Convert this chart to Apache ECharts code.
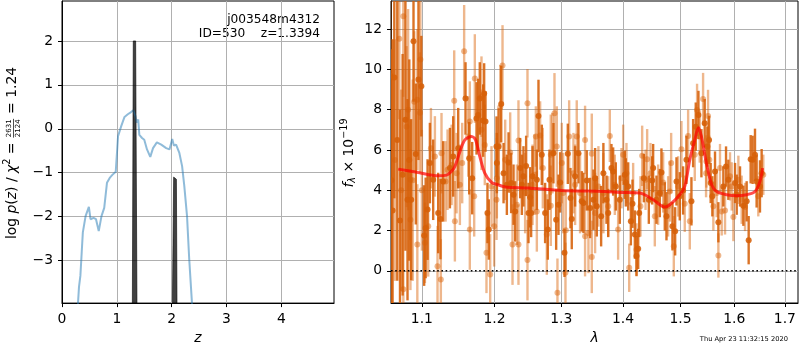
<!DOCTYPE html>
<html>
<head>
<meta charset="utf-8">
<script src="https://cdn.jsdelivr.net/npm/echarts@6/dist/echarts.min.js"></script>
<style>
html, body { margin: 0; padding: 0; background: #fff; }
#canvas { width: 800px; height: 350px; }
</style>
</head>
<body>
<div id="canvas"></div>
<script>
// ---- left panel: log p(z)
var pz_z = [0.28, 0.292, 0.31, 0.335, 0.36, 0.38, 0.43, 0.49, 0.52, 0.575, 0.62, 0.67, 0.72, 0.77, 0.80, 0.82, 0.87, 0.918, 0.95, 0.98,
    1.022, 1.08, 1.14, 1.20, 1.26, 1.30, 1.34, 1.36, 1.39, 1.41, 1.46, 1.50, 1.55, 1.61, 1.66, 1.73, 1.81, 1.90, 1.96, 2.01,
    2.04, 2.08, 2.14, 2.19, 2.23, 2.28, 2.32, 2.37, 2.40];
var pz_logp = [-4.6, -3.97, -3.6, -3.35, -2.8, -2.36, -1.99, -1.78, -2.06, -2.03, -2.06, -2.33, -1.99, -1.80, -1.84, -1.23, -1.12, -1.05, -1.08, -0.98,
    -0.17, 0.06, 0.27, 0.33, 0.38, 0.42, 0.29, 0.14, 0.21, -0.14, -0.21, -0.25, -0.47, -0.64, -0.44, -0.31, -0.36, -0.44, -0.47, -0.23,
    -0.38, -0.36, -0.55, -0.85, -1.30, -1.99, -2.97, -3.97, -4.6];
var spike_z = [1.283, 1.300, 1.318, 1.343, 1.367, 2.013, 2.036, 2.060, 2.086, 2.097];
var spike_logp = [-4.0, 2.0, 2.03, 2.0, -4.0, -4.0, -1.10, -1.12, -1.15, -4.0];
var z_ticks = [0, 1, 2, 3, 4];
var logp_ticks = [-3, -2, -1, 0, 1, 2];

// ---- right panel: spectrum
var dark_lam = [1.0620, 1.0680, 1.0715, 1.0785, 1.0835, 1.0920, 1.0955,
    1.0590, 1.0605, 1.0642, 1.0749, 1.0812, 1.0860, 1.0890, 1.0993, 1.1030, 1.1050, 1.1075, 1.1106, 1.1150, 1.1217, 1.1248, 1.1285,
    1.1376, 1.1421, 1.1490, 1.1591, 1.1642, 1.1684, 1.1745, 1.1768, 1.1791, 1.1839, 1.1853, 1.1872, 1.1900, 1.1919, 1.2030,
    1.2035, 1.2059, 1.2098, 1.2132, 1.2180, 1.2205, 1.2243, 1.2278, 1.2302, 1.2376, 1.2401, 1.2425, 1.2465, 1.2500, 1.2525, 1.2540,
    1.2561, 1.2626, 1.2651, 1.2701, 1.2752, 1.2793, 1.2819, 1.2880, 1.2922, 1.2958, 1.2984, 1.3052, 1.3104, 1.3146, 1.3166, 1.3219,
    1.3272, 1.3325, 1.3352, 1.3405, 1.3459, 1.3513, 1.3540, 1.3567, 1.3638, 1.3675,
    1.3726, 1.3754, 1.3808, 1.3836, 1.3880, 1.3947, 1.4031, 1.4048, 1.4088, 1.4133, 1.4161, 1.4201, 1.4229, 1.4258, 1.4275, 1.4355,
    1.4441, 1.4499, 1.4516, 1.4574, 1.4632, 1.4661, 1.4720, 1.4750, 1.4856, 1.4904, 1.4928, 1.4987, 1.5047, 1.5107, 1.5198, 1.5229,
    1.5277, 1.5326, 1.5381, 1.5442, 1.5491, 1.5523,
    1.5553, 1.5584, 1.5634, 1.5697, 1.5791, 1.5842, 1.5886, 1.6014, 1.6046, 1.6110, 1.6175, 1.6239, 1.6278, 1.6317, 1.6356, 1.6402,
    1.6434, 1.6500, 1.6533];
var dark_flux = [3.0, 6.5, 2.5, 7.5, 5.5, 5.8, 9.5,
    9.7, 4.5, 9.6, 4.77, 3.53, 3.53, 11.4, 9.17, 1.75, 2.13, 3.04, 5.35, 4.52, 2.87, 2.57, 4.44,
    5.1, 5.68, 6.09, 8.56, 5.59, 4.6, 7.57, 7.74, 8.56, 7.46, 8.81, 7.41, 2.87, 2.05, 6.17,
    5.35, 6.17, 8.28, 4.85, 4.27, 5.38, 4.36, 3.78, 2.95, 5.1, 4.27, 4.69, 5.21, 2.87, 3.65, 2.87,
    4.69, 4.52, 7.69, 5.76, 2.87, 2.05, 4.52, 5.84, 2.54, 3.28, 4.39, 0.89, 5.81, 3.61, 2.57, 4.69,
    5.84, 3.45, 3.37, 4.49, 3.12, 3.53, 4.6, 3.2, 2.71, 4.85,
    3.53, 2.87, 5.1, 4.93, 4.19, 3.53, 4.77, 4.39, 4.19, 2.46, 3.33, 1.8, 0.73, 1.09, 2.87, 4.6,
    3.53, 4.49, 5.1, 3.53, 3.86, 4.88, 3.2, 2.71, 2.21, 1.96, 4.44, 3.7, 3.99, 5.51, 3.45, 6.34,
    7.16, 7.74, 5.84, 7.33, 6.17, 6.5,
    4.36, 3.7, 4.93, 2.41, 4.19, 5.18, 4.52, 4.36, 3.78, 4.19, 3.23, 3.45, 1.52, 5.54, 5.51, 5.76,
    4.44, 4.19, 4.85];
var dark_err = [8.5, 7, 5.5, 6.5, 5, 3.5, 4,
    7, 6.5, 6, 6, 5, 4, 3, 2.5, 2.5, 2.5, 2.5, 2, 2, 2, 2, 2,
    2, 2, 2, 1.8, 1.8, 1.8, 1.8, 1.8, 1.8, 1.8, 1.5, 1.5, 1.5, 1.5, 1.5,
    1.5, 1.9, 1.9, 1.5, 1.5, 1.5, 1.5, 1.5, 1.5, 1.5, 1.5, 1.5, 1.5, 1.5, 1.5, 1.2,
    1.5, 1.5, 1.8, 1.5, 1.5, 1.5, 1.5, 1.5, 1.5, 1.5, 1.5, 1.2, 1.5, 1.5, 1.5, 1.5,
    1.5, 1.5, 1.5, 1.5, 1.5, 1.5, 1.5, 1.5, 1.5, 1.5,
    1.2, 1.2, 1.2, 1.2, 1.2, 1.2, 1.2, 1.2, 1.2, 1.2, 1.2, 1.2, 1.0, 1.0, 1.2, 1.2,
    1.2, 1.2, 1.2, 1.2, 1.2, 1.2, 1.2, 1.2, 1.2, 1.2, 1.2, 1.2, 1.2, 1.2, 1.2, 1.2,
    1.2, 1.2, 1.2, 1.2, 1.0, 1.2,
    1.0, 1.0, 1.0, 1.0, 1.0, 1.0, 1.0, 1.0, 1.0, 1.0, 1.0, 1.0, 1.2, 1.2, 1.2, 1.3,
    1.3, 1.3, 1.2];

var light_lam = [1.0650, 1.0730, 1.0820, 1.0880, 1.1000,
    1.0706, 1.0758, 1.0758, 1.0800, 1.0850, 1.0850, 1.0900, 1.0940, 1.0980, 1.0975, 1.0940, 1.1040, 1.1084, 1.1120, 1.1173,
    1.1208, 1.1253, 1.1262, 1.1317, 1.1344, 1.1399, 1.1435, 1.1444, 1.1467, 1.1513, 1.1545, 1.1572, 1.1628, 1.1651, 1.1651, 1.1712,
    1.1721, 1.1815, 1.1815, 1.1862, 1.1886, 1.1939, 1.1958, 1.1996, 1.2030,
    1.2035, 1.2084, 1.2117, 1.2156, 1.2229, 1.2263, 1.2327, 1.2351, 1.2351, 1.2450, 1.2485, 1.2485, 1.2561, 1.2591, 1.2611, 1.2626,
    1.2676, 1.2717, 1.2778, 1.2839, 1.2839, 1.2865, 1.2896, 1.2932, 1.2942, 1.3010, 1.3031, 1.3067, 1.3072, 1.3125, 1.3193, 1.3219,
    1.3245, 1.3298, 1.3378, 1.3378, 1.3432, 1.3486, 1.3486, 1.3540, 1.3594, 1.3675,
    1.3754, 1.3781, 1.3864, 1.3919, 1.3975, 1.4003, 1.4059, 1.4105, 1.4172, 1.4229, 1.4297, 1.4326, 1.4384, 1.4412, 1.4470, 1.4545,
    1.4603, 1.4691, 1.4779, 1.4809, 1.4833, 1.4880, 1.4957, 1.5017, 1.5077, 1.5138, 1.5168, 1.5259, 1.5301, 1.5350, 1.5412, 1.5473,
    1.5504,
    1.5467, 1.5528, 1.5603, 1.5665, 1.5697, 1.5728, 1.5760, 1.5823, 1.5918, 1.5950, 1.5982, 1.6078, 1.6142, 1.6207, 1.6467, 1.6566];
var light_flux = [5.5, 4.0, 8.0, 4.5, 4.0,
    11.53, 12.64, -0.92, 7.16, 4.52, 2.54, 8.4, 8.5, 10.5, 7.85, 1.3, 1.39, 2.21, 6.09, 5.68,
    0.23, -0.43, 5.84, 4.44, 5.02, 5.26, 8.45, 2.46, 4.85, 4.27, 5.35, 10.9, 6.67, 7.41, 2.05, 3.7,
    9.55, 8.65, 7.0, 6.25, 0.89, -0.18, 4.19, 2.21, 3.53,
    4.6, 8.12, 10.2, 5.51, 5.87, 1.3, 3.28, 1.3, 6.47, 3.86, 8.32, 0.53, 4.27, 4.77, 6.67, 2.95,
    6.72, 5.1, 1.8, 5.76, 3.23, 5.84, 7.82, 6.17, -1.09, 5.35, 3.86, -0.1, 2.01, 6.67, 4.85, 4.27,
    6.67, 3.86, 6.5, 1.72, 1.88, 5.81, 0.69, 2.87, 4.19, 3.86,
    3.2, 6.7, 4.27, 2.05, 4.6, 5.76, 4.85, 0.15, 3.86, 1.06, 3.2, 5.71, 4.52, 5.54, 4.85, 2.71,
    3.78, 4.39, 3.2, 3.94, 5.35, 1.22, 4.19, 6.04, 3.33, 6.7, 2.46, 5.76, 7.99, 6.67, 8.53, 5.43,
    7.69,
    4.85, 5.51, 3.2, 3.86, 0.76, 5.1, 2.95, 3.0, 4.69, 4.19, 2.67, 4.52, 3.53, 3.17, 3.7, 4.77];
var light_err = [6, 5, 5, 5, 3,
    4, 4, 3, 4, 3, 3.5, 3.5, 3.5, 3, 3, 3, 2, 2.5, 2, 2,
    2, 2, 2, 2, 2, 2, 2.5, 2, 2, 2, 2, 2.3, 2, 2, 2, 2,
    2.2, 2, 2, 2, 2, 2, 2, 2, 2,
    2, 2.1, 2, 2, 2, 2, 2, 2, 2, 2, 1.7, 2, 2, 2, 1.5, 2,
    1.7, 2, 2, 2, 2, 2, 2, 2, 1.7, 2, 2, 1.5, 2, 1.8, 2, 2,
    1.8, 2, 1.7, 2, 2, 2, 1.8, 2, 2, 2,
    1.5, 1.3, 1.5, 1.5, 1.5, 1.5, 1.5, 1.2, 1.5, 1.3, 1.5, 1.5, 1.5, 1.5, 1.5, 1.5,
    1.5, 1.5, 1.5, 1.5, 1.5, 1.5, 1.5, 1.4, 1.4, 1.3, 1.4, 1.3, 1.3, 1.3, 1.3, 1.3,
    1.3,
    1.2, 1.2, 1.2, 1.2, 1.1, 1.2, 1.2, 1.2, 1.2, 1.2, 1.2, 1.2, 1.2, 1.2, 1.0, 1.0];

var model_lam = [1.0692, 1.0952, 1.1217, 1.1330, 1.1400, 1.1444, 1.1513, 1.1582, 1.1675, 1.1731, 1.1791, 1.1862, 1.1958, 1.2054,
    1.2156, 1.2500, 1.3010, 1.3703, 1.3947, 1.4286, 1.4516, 1.4720, 1.4809, 1.4987, 1.5077, 1.5168, 1.5259, 1.5326, 1.5381,
    1.5473, 1.5572, 1.5665, 1.5854, 1.6046, 1.6239, 1.6402, 1.6500, 1.6552];
var model_flux = [5.05, 4.88, 4.72, 4.75, 4.95, 5.18, 5.92, 6.5, 6.67, 6.5, 5.68, 4.85, 4.39, 4.27,
    4.16, 4.11, 3.99, 3.94, 3.89, 3.86, 3.53, 3.17, 3.28, 3.78, 4.19, 5.51, 6.5, 7.1, 6.67,
    5.35, 4.27, 3.94, 3.78, 3.73, 3.78, 3.94, 4.44, 5.1];
var lam_ticks = [1.1, 1.2, 1.3, 1.4, 1.5, 1.6, 1.7];
var flux_ticks = [0, 2, 4, 6, 8, 10, 12];

var FONT = '"DejaVu Sans", sans-serif';
var FS = 13.9;

var errbar_series = function(lam, flux, err, color, z) {
    var data = [];
    for (var i in lam) data.push([Math.log10(lam[i]), flux[i], flux[i] - err[i], flux[i] + err[i]]);
    return {
        type: 'custom',
        xAxisIndex: 1, yAxisIndex: 1,
        clip: true,
        z: z,
        data: data,
        renderItem: function(params, api) {
            var p = api.coord([api.value(0), api.value(1)]);
            var lo = api.coord([api.value(0), api.value(2)]);
            var hi = api.coord([api.value(0), api.value(3)]);
            return {
                type: 'group',
                children: [
                    {type: 'line', shape: {x1: lo[0], y1: lo[1], x2: hi[0], y2: hi[1]},
                     style: {stroke: color, lineWidth: 2.4}},
                    {type: 'circle', shape: {cx: p[0], cy: p[1], r: 3},
                     style: {fill: color}}
                ]
            };
        }
    };
}

// measure text to lay out the math axis labels
var ctx = document.createElement('canvas').getContext('2d');
var text_width = function(s, font) {
    ctx.font = font;
    return ctx.measureText(s).width;
}
var math_label = function(parts, cx, cy) {
    var children = [];
    var x = 0;
    for (var i in parts) {
        var p = parts[i];
        var size = p.size || FS;
        var font = (p.italic ? 'italic ' : '') + size + 'px ' + FONT;
        if (p.frac) {
            var w = Math.max(text_width(p.frac[0], font), text_width(p.frac[1], font)) + 2;
            children.push({type: 'text', x: x + w / 2, y: -3, style: {text: p.frac[0], font: font, fill: '#000', textAlign: 'center', textVerticalAlign: 'middle'}});
            children.push({type: 'text', x: x + w / 2, y: 6, style: {text: p.frac[1], font: font, fill: '#000', textAlign: 'center', textVerticalAlign: 'middle'}});
            children.push({type: 'line', shape: {x1: x + 0.5, y1: 1.5, x2: x + w - 0.5, y2: 1.5}, style: {stroke: '#000', lineWidth: 0.7}});
            x += w;
        } else {
            children.push({type: 'text', x: x, y: p.dy || 0, style: {text: p.t, font: font, fill: '#000', textAlign: 'left', textVerticalAlign: 'middle'}});
            x += text_width(p.t, font);
        }
    }
    for (var j in children) {
        if (children[j].type == 'line') {
            children[j].shape.x1 -= x / 2;
            children[j].shape.x2 -= x / 2;
        } else {
            children[j].x -= x / 2;
        }
    }
    return {type: 'group', x: cx, y: cy, rotation: Math.PI / 2, children: children};
}

var axis_common = function(ticks, fmt) {
    return {
        axisLine: {show: true, onZero: false, lineStyle: {color: '#000', width: 1}},
        axisTick: {show: true, length: 4, customValues: ticks, lineStyle: {color: '#000', width: 1}},
        axisLabel: {customValues: ticks, color: '#000', fontSize: FS, fontFamily: FONT, margin: 9, formatter: fmt},
        splitLine: {show: true, lineStyle: {color: '#b0b0b0', width: 1}}
    };
}

var myChart = echarts.init(document.getElementById('canvas'));

var lam_min = Math.log10(1.06), lam_max = Math.log10(1.727);

var option = {
    animation: false,
    backgroundColor: '#fff',
    grid: [
        {left: 62, top: 1, width: 272, height: 303, show: true, borderColor: '#000', borderWidth: 1},
        {left: 391, top: 1, width: 407, height: 302, show: true, borderColor: '#000', borderWidth: 1}
    ],
    xAxis: [
        Object.assign({
            type: 'value', gridIndex: 0, min: 0, max: 4.96,
            name: 'z', nameLocation: 'middle', nameGap: 27,
            nameTextStyle: {fontStyle: 'italic', fontSize: FS, fontFamily: FONT, color: '#000'}
        }, axis_common(z_ticks, function(v) { return String(v); })),
        Object.assign({
            type: 'value', gridIndex: 1, min: lam_min, max: lam_max,
            name: 'λ', nameLocation: 'middle', nameGap: 27,
            nameTextStyle: {fontStyle: 'italic', fontSize: FS, fontFamily: FONT, color: '#000'}
        }, axis_common(lam_ticks.map(Math.log10), function(v) { return Math.pow(10, v).toFixed(1); }))
    ],
    yAxis: [
        Object.assign({type: 'value', gridIndex: 0, min: -3.97, max: 2.91},
            axis_common(logp_ticks, function(v) { return v < 0 ? '\u2212' + Math.abs(v) : String(v); })),
        Object.assign({type: 'value', gridIndex: 1, min: -1.6, max: 13.4},
            axis_common(flux_ticks, function(v) { return String(v); }))
    ],
    series: [
        {
            type: 'line', xAxisIndex: 0, yAxisIndex: 0, showSymbol: false, clip: true,
            data: pz_z.map(function(z, i) { return [z, pz_logp[i]]; }),
            lineStyle: {color: 'rgba(31,119,180,0.5)', width: 2}
        },
        {
            type: 'line', xAxisIndex: 0, yAxisIndex: 0, showSymbol: false, clip: true,
            data: spike_z.map(function(z, i) { return [z, spike_logp[i]]; }),
            lineStyle: {color: 'rgba(0,0,0,0.75)', width: 0.8},
            areaStyle: {color: 'rgba(0,0,0,0.75)', opacity: 1, origin: 'start'}
        },
        errbar_series(light_lam, light_flux, light_err, 'rgba(217,95,2,0.45)', 2),
        errbar_series(dark_lam, dark_flux, dark_err, 'rgba(214,96,8,0.88)', 3),
        {
            type: 'line', xAxisIndex: 1, yAxisIndex: 1, showSymbol: false, clip: true, smooth: 0.3, z: 4,
            data: model_lam.map(function(l, i) { return [Math.log10(l), model_flux[i]]; }),
            lineStyle: {color: 'rgba(255,0,0,0.7)', width: 3}
        },
        {
            type: 'line', xAxisIndex: 1, yAxisIndex: 1, showSymbol: false, z: 5,
            data: [[lam_min, 0], [lam_max, 0]],
            lineStyle: {color: '#000', width: 1.6, type: [1.6, 2.6]}
        }
    ],
    graphic: [
        {type: 'text', x: 320, y: 20, style: {text: 'j003548m4312', font: '12.2px ' + FONT, fill: '#000', textAlign: 'right', textVerticalAlign: 'middle'}},
        {type: 'text', x: 320, y: 34, style: {text: 'ID=530    z=1.3394', font: '12.2px ' + FONT, fill: '#000', textAlign: 'right', textVerticalAlign: 'middle'}},
        {type: 'text', x: 788, y: 339, style: {text: 'Thu Apr 23 11:32:15 2020', font: '6.7px ' + FONT, fill: '#000', textAlign: 'right', textVerticalAlign: 'middle'}},
        math_label([
            {t: 'log '}, {t: 'p', italic: true}, {t: '('}, {t: 'z', italic: true}, {t: ') / '},
            {t: 'χ', italic: true}, {t: '2', size: 9.7, dy: -5}, {t: ' = '},
            {frac: ['2631', '2124'], size: 7}, {t: ' = 1.24'}
        ], 12, 153),
        math_label([
            {t: 'f', italic: true}, {t: 'λ', italic: true, size: 9.7, dy: 3}, {t: ' × 10'}, {t: '\u221219', size: 9.7, dy: -5}
        ], 349, 153)
    ]
};
myChart.setOption(option);
</script>
</body>
</html>
